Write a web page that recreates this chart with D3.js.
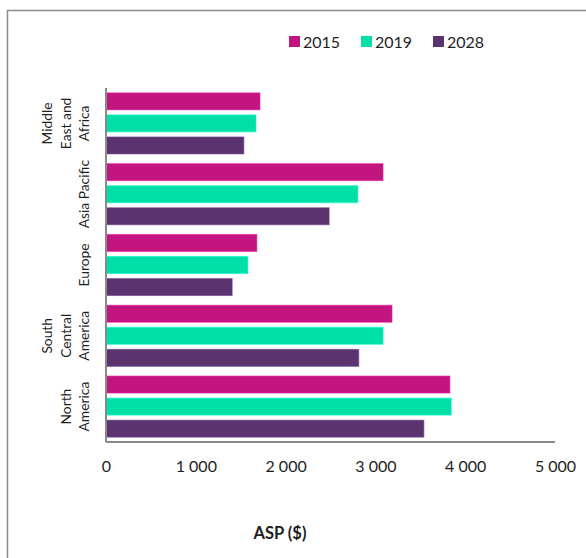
<!DOCTYPE html>
<html><head><meta charset="utf-8">
<script src="https://cdn.jsdelivr.net/npm/d3@7"></script>
<style>body{margin:0;background:#fff}svg{display:block}</style>
</head><body>
<script>
const categories = ["Middle East and Africa", "Asia Pacific", "Europe", "South Central America", "North America"];
const categoryLines = [["Middle","East and","Africa"],["Asia Pacific"],["Europe"],["South","Central","America"],["North","America"]];
const seriesNames = ["2015", "2019", "2028"];
const values2015 = [1715, 3085, 1680, 3185, 3830];
const values2019 = [1670, 2805, 1580, 3085, 3845];
const values2028 = [1535, 2485, 1405, 2815, 3540];
const xTicks = [0, 1000, 2000, 3000, 4000, 5000];
const colors = ["#C2157F", "#00DFA7", "#5B346F"];
const seriesValues = [values2015, values2019, values2028];

(function(){
const W = 586, H = 558;
const font = "Lato, 'Open Sans', sans-serif";
const svg = d3.select("body").append("svg").attr("width", W).attr("height", H);
svg.append("rect").attr("width", W).attr("height", H).attr("fill", "#fff");
// frame
svg.append("path").attr("d", `M7.5,${H} V10.5 H${W}`).attr("fill","none").attr("stroke","#8a8a8a").attr("stroke-width",1.5);

const mLeft = 106, mRight = 555, mTop = 88, mBottom = 442;
const x = d3.scaleLinear().domain([0, 5000]).range([mLeft, mRight]);
const y0 = d3.scaleBand().domain(categories).range([mTop, mBottom]).paddingInner(0.0).paddingOuter(0);
const y1 = d3.scaleBand().domain(seriesNames).range([0, y0.bandwidth()]).paddingInner(0.23).paddingOuter(0.22);

const g = svg.append("g");
categories.forEach((c, i) => {
  seriesNames.forEach((s, j) => {
    g.append("rect")
      .attr("x", x(0))
      .attr("y", y0(c) + y1(s))
      .attr("width", x(seriesValues[j][i]) - x(0))
      .attr("height", y1.bandwidth())
      .attr("fill", colors[j])
      .attr("stroke", d3.color(colors[j]).brighter(0.6))
      .attr("stroke-opacity", 0.6)
      .attr("stroke-width", 1);
  });
});

// axes lines
svg.append("line").attr("x1", mLeft).attr("x2", mLeft).attr("y1", mTop).attr("y2", mBottom)
  .attr("stroke", "#8a8a8a").attr("stroke-width", 2);
svg.append("line").attr("x1", mLeft).attr("x2", mRight).attr("y1", mBottom).attr("y2", mBottom)
  .attr("stroke", "#8a8a8a").attr("stroke-width", 2);

// x tick labels via axis
const xAxis = d3.axisBottom(x).tickValues(xTicks).tickSize(0).tickPadding(0).tickFormat(v => d3.format(",")(v).replace(/,/g, " "));
const ax = svg.append("g").attr("transform", `translate(0,${mBottom})`).call(xAxis);
ax.select(".domain").remove();
ax.selectAll("text").attr("y", 30).attr("dy", 0).attr("font-family", font).attr("font-size", 16).attr("fill", "#1e1e1e");

// category labels
categories.forEach((c, i) => {
  const lines = categoryLines[i];
  const cy = y0(c) + y0.bandwidth() / 2;
  const lh = 18.5;
  const n = lines.length;
  lines.forEach((ln, k) => {
    const cx = 89 - (n - 1 - k) * lh;
    svg.append("text")
      .attr("transform", `translate(${cx},${cy}) rotate(-90)`)
      .attr("text-anchor", "middle")
      .attr("font-family", font).attr("font-size", 13.8).attr("fill", "#1e1e1e")
      .text(ln);
  });
});

// axis title
svg.append("text").attr("x", 280).attr("y", 539).attr("text-anchor", "middle")
  .attr("font-family", font).attr("font-weight", "bold").attr("font-size", 16.5).attr("fill", "#1e1e1e")
  .text("ASP ($)");

// legend
const legX = [289, 361, 433];
seriesNames.forEach((s, j) => {
  svg.append("rect").attr("x", legX[j]).attr("y", 36).attr("width", 11).attr("height", 11).attr("fill", colors[j]);
  svg.append("text").attr("x", legX[j] + 14).attr("y", 47.5).attr("font-family", font).attr("font-size", 16).attr("fill", "#1e1e1e").text(s);
});
})();
</script>
</body></html>
